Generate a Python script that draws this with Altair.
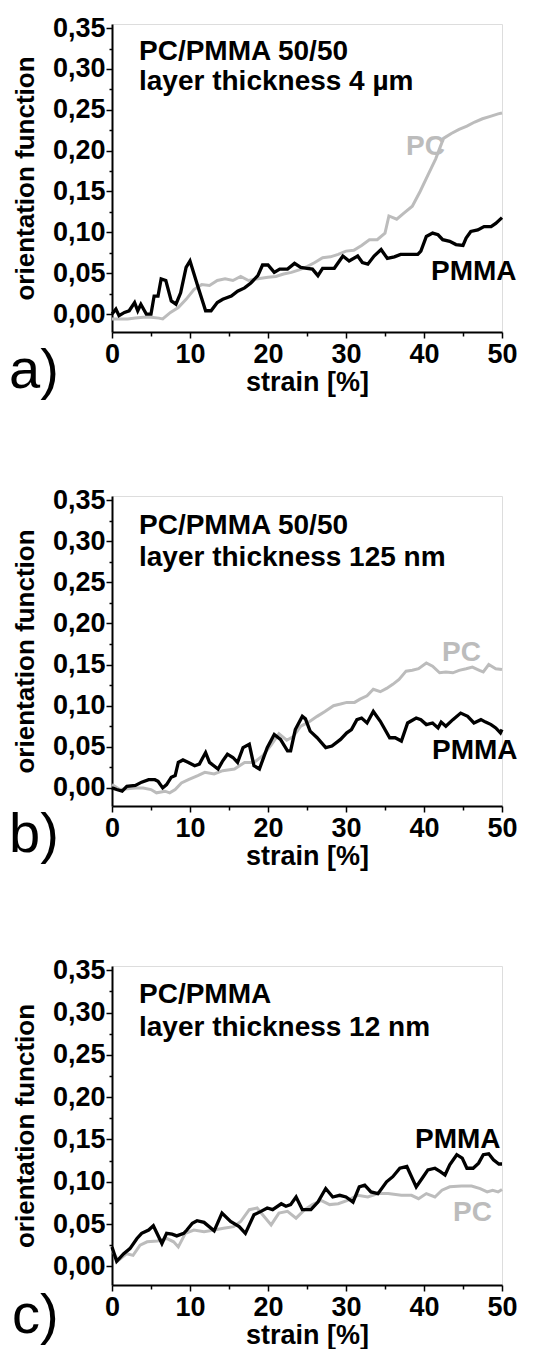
import altair as alt
import pandas as pd

# ---------------- data ----------------
# panel a) PC/PMMA 50/50, layer thickness 4 µm
a_pmma_strain = [0, 0.5, 0.9, 1.6, 2.2, 2.9, 3.3, 3.7, 4.4, 5.0, 5.4, 5.9, 6.3, 6.9, 7.6, 8.2, 8.8, 9.5, 10.0, 11.0,
                 12.0, 12.7, 13.5, 14.2, 15.3, 16.1, 17.0, 17.8, 18.7, 19.3, 20.0, 20.8, 21.5, 22.5, 23.4, 24.2, 25.0,
                 25.7, 26.4, 27.0, 28.5, 29.6, 30.4, 31.5, 32.1, 32.8, 33.6, 34.5, 35.3, 36.2, 37.0, 37.9, 39.2, 39.6,
                 40.3, 41.1, 41.8, 42.4, 43.3, 44.1, 45.0, 45.4, 46.0, 46.9, 47.7, 48.6, 49.2, 50.0]
a_pmma_value = [0.000, 0.006, -0.002, 0.002, 0.004, 0.014, 0.004, 0.012, 0.000, 0.000, 0.022, 0.022, 0.043, 0.041,
                0.016, 0.012, 0.026, 0.057, 0.065, 0.034, 0.004, 0.004, 0.014, 0.018, 0.022, 0.028, 0.032, 0.038,
                0.047, 0.060, 0.060, 0.051, 0.055, 0.055, 0.062, 0.057, 0.056, 0.055, 0.047, 0.056, 0.056, 0.071,
                0.065, 0.071, 0.063, 0.061, 0.071, 0.079, 0.068, 0.070, 0.073, 0.073, 0.073, 0.077, 0.095, 0.099,
                0.097, 0.091, 0.089, 0.085, 0.084, 0.093, 0.101, 0.103, 0.107, 0.107, 0.111, 0.118]
a_pc_strain = [0, 1, 2, 3, 4, 5, 6, 6.5, 7.5, 8.5, 9.5, 10.5, 11.5, 12.5, 13.5, 14.5, 15.5, 16.5, 17.5, 18.5,
               20, 21, 22, 23, 24, 25, 26, 27, 28, 29, 30, 31, 32, 33, 34, 35, 35.5, 36.5, 37.5, 38.5,
               39.5, 40.5, 41.5, 42.5, 43.5, 44.5, 45.5, 46.5, 47.5, 48.5, 49.5, 50]
a_pc_value = [-0.006, -0.006, -0.006, -0.005, -0.004, -0.004, -0.005, -0.006, 0.002, 0.008, 0.018, 0.030, 0.036,
              0.035, 0.041, 0.043, 0.041, 0.046, 0.041, 0.043, 0.045, 0.046, 0.049, 0.051, 0.054, 0.058, 0.063,
              0.069, 0.070, 0.073, 0.077, 0.078, 0.084, 0.091, 0.091, 0.099, 0.120, 0.116, 0.124, 0.132, 0.150,
              0.170, 0.190, 0.215, 0.221, 0.226, 0.230, 0.235, 0.239, 0.242, 0.245, 0.246]

# panel b) PC/PMMA 50/50, layer thickness 125 nm
b_pmma_strain = [0, 0.6, 1.3, 1.9, 3.0, 3.8, 4.7, 5.5, 5.9, 6.5, 7.0, 7.6, 8.1, 8.5, 9.1, 9.8, 10.6, 11.2, 12.0, 12.5,
                 13.6, 14.2, 14.8, 15.5, 16.1, 16.8, 17.6, 18.2, 18.9, 19.9, 20.8, 21.6, 22.5, 22.9, 23.5, 24.4, 24.8,
                 25.4, 26.3, 27.4, 28.2, 29.3, 30.1, 30.7, 31.4, 32.0, 32.7, 33.5, 34.4, 35.6, 36.3, 37.1, 37.9, 39.0,
                 39.6, 40.3, 41.1, 41.8, 42.2, 42.8, 43.7, 44.7, 45.6, 46.4, 47.3, 47.9, 48.6, 49.2, 49.8, 50.0]
b_pmma_value = [0.000, -0.002, -0.004, 0.002, 0.003, 0.007, 0.010, 0.010, 0.008, 0.000, 0.004, 0.013, 0.015, 0.031,
                0.034, 0.031, 0.027, 0.029, 0.043, 0.031, 0.023, 0.033, 0.041, 0.037, 0.031, 0.049, 0.053, 0.027,
                0.023, 0.049, 0.065, 0.059, 0.045, 0.045, 0.071, 0.087, 0.084, 0.069, 0.061, 0.049, 0.051, 0.059,
                0.067, 0.071, 0.083, 0.085, 0.079, 0.093, 0.081, 0.061, 0.061, 0.057, 0.079, 0.085, 0.083, 0.077,
                0.079, 0.073, 0.080, 0.075, 0.083, 0.091, 0.087, 0.079, 0.083, 0.080, 0.077, 0.073, 0.067, 0.071]
b_pc_strain = [0, 1, 2, 3, 4, 5, 5.7, 6.8, 7.4, 8.1, 8.9, 9.8, 11, 11.9, 13.1, 14.2, 15.7, 17, 18.2, 19.3,
               20.4, 21.4, 22.4, 23.2, 24.2, 25.2, 26.3, 27.3, 28.4, 29.3, 30.1, 31.1, 31.8, 32.7, 33.5, 34.4, 35.2,
               36, 36.8, 37.7, 38.5, 39.3, 40.3, 41.1, 42, 42.8, 43.7, 44.5, 45.4, 46.2, 47.1, 47.6, 48.3, 49.2, 50]
b_pc_value = [0.004, -0.002, -0.001, 0.000, 0.000, -0.002, -0.006, -0.004, -0.006, -0.002, 0.006, 0.010, 0.015,
              0.019, 0.017, 0.021, 0.023, 0.031, 0.031, 0.039, 0.052, 0.066, 0.058, 0.062, 0.075, 0.080, 0.087,
              0.093, 0.100, 0.102, 0.104, 0.104, 0.108, 0.112, 0.120, 0.117, 0.121, 0.126, 0.132, 0.142, 0.143,
              0.145, 0.152, 0.148, 0.140, 0.141, 0.140, 0.143, 0.145, 0.147, 0.143, 0.141, 0.150, 0.145, 0.144]

# panel c) PC/PMMA, layer thickness 12 nm
c_pmma_strain = [0, 0.6, 1.5, 2.3, 3.2, 3.8, 4.7, 5.3, 6.4, 7.0, 7.7, 8.3, 9.2, 9.6, 10.3, 10.9, 11.8, 13.1, 14.1,
                 15.2, 16.3, 17.1, 18.2, 19.1, 19.9, 20.6, 21.7, 22.3, 22.9, 23.6, 24.4, 25.5, 26.4, 27.4, 28.3,
                 29.2, 30.0, 30.9, 31.7, 32.4, 33.2, 34.1, 35.2, 36.0, 36.9, 37.8, 39.0, 39.9, 40.5, 41.4, 42.1,
                 42.7, 43.3, 44.2, 44.9, 45.5, 46.3, 47.0, 47.6, 48.3, 48.9, 49.6, 50.0]
c_pmma_value = [0.023, 0.006, 0.015, 0.021, 0.033, 0.039, 0.043, 0.048, 0.027, 0.039, 0.038, 0.036, 0.039, 0.043,
                0.051, 0.054, 0.052, 0.042, 0.063, 0.053, 0.047, 0.039, 0.061, 0.065, 0.069, 0.067, 0.074, 0.071,
                0.073, 0.082, 0.067, 0.067, 0.076, 0.092, 0.082, 0.084, 0.082, 0.076, 0.094, 0.096, 0.088, 0.086,
                0.100, 0.106, 0.116, 0.118, 0.094, 0.106, 0.114, 0.116, 0.112, 0.108, 0.120, 0.132, 0.128, 0.116,
                0.116, 0.122, 0.132, 0.133, 0.126, 0.121, 0.121]
c_pc_strain = [0, 0.8, 1.9, 2.7, 3.6, 4.5, 5.8, 7.0, 7.9, 8.5, 9.4, 10.5, 11.8, 13.1, 14.3, 15.6, 16.5, 17.6, 18.6,
               19.5, 20.4, 21.4, 22.5, 23.6, 24.7, 25.7, 26.8, 27.9, 29.0, 30.2, 31.5, 32.8, 34.1, 35.4, 37.1, 38.4,
               39.3, 40.3, 41.4, 42.3, 43.3, 44.8, 46.1, 47.2, 48.1, 48.8, 49.5, 50.0]
c_pc_value = [0.019, 0.007, 0.015, 0.013, 0.025, 0.029, 0.030, 0.033, 0.029, 0.023, 0.039, 0.043, 0.041, 0.043,
              0.045, 0.047, 0.053, 0.067, 0.069, 0.059, 0.049, 0.063, 0.065, 0.057, 0.067, 0.073, 0.078, 0.073,
              0.074, 0.078, 0.084, 0.082, 0.086, 0.086, 0.084, 0.084, 0.080, 0.086, 0.082, 0.090, 0.094, 0.095,
              0.095, 0.092, 0.088, 0.090, 0.088, 0.091]

strain_ticks = [0, 5, 10, 15, 20, 25, 30, 35, 40, 45, 50]
orientation_ticks = [0.0, 0.025, 0.05, 0.075, 0.1, 0.125, 0.15, 0.175, 0.2, 0.225, 0.25, 0.275, 0.3, 0.325, 0.35]

titles_a = ["PC/PMMA 50/50", "layer thickness 4 µm"]
titles_b = ["PC/PMMA 50/50", "layer thickness 125 nm"]
titles_c = ["PC/PMMA", "layer thickness 12 nm"]
series_names = ["PC", "PMMA"]
panel_letters = ["a)", "b)", "c)"]
x_title = "strain [%]"
y_title = "orientation function"

# ---------------- styling ----------------
FONT = "Liberation Sans"
GRAY = "#bcbcbc"
W = 390

xaxis = alt.Axis(
    values=strain_ticks, title=x_title, grid=False,
    labelExpr="datum.value % 10 === 0 ? datum.label : ''",
    domainColor="black", domainWidth=2, tickColor="black", tickWidth=1.5,
    tickSize={"condition": {"test": "datum.value % 10 === 0", "value": 6}, "value": 4},
    labelFont=FONT, labelFontSize=27, labelFontWeight="bold", labelColor="black",
    labelPadding=3, labelFlush=False, labelOverlap=False,
    titleFont=FONT, titleFontSize=27, titleFontWeight="bold", titleColor="black", titlePadding=2,
)
yaxis = alt.Axis(
    values=orientation_ticks, title=y_title, grid=False,
    labelExpr="abs(datum.value*20 - round(datum.value*20)) < 0.001 ? replace(format(datum.value, '.2f'), '.', ',') : ''",
    domainColor="black", domainWidth=2, tickColor="black", tickWidth=1.5,
    tickSize={"condition": {"test": "abs(datum.value*20 - round(datum.value*20)) < 0.001", "value": 6}, "value": 3},
    labelFont=FONT, labelFontSize=27, labelFontWeight="bold", labelColor="black",
    labelPadding=1, labelFlush=False, labelOverlap=False,
    titleFont=FONT, titleFontSize=26, titleFontWeight="bold", titleColor="black", titlePadding=14,
)


def line_layer(strain, value, color, width):
    df = pd.DataFrame({"strain": strain, "value": value})
    return alt.Chart(df).mark_line(color=color, strokeWidth=width).encode(
        x=alt.X("strain:Q", scale=alt.Scale(domain=[0, 50], nice=False, zero=False), axis=xaxis),
        y=alt.Y("value:Q", scale=alt.Scale(domain=[-0.022, 0.355], nice=False, zero=False), axis=yaxis),
    )


def text_layer(text, x, y, size=28, color="black", weight="bold"):
    return alt.Chart(pd.DataFrame({"t": [text]})).mark_text(
        align="left", baseline="middle", font=FONT, fontSize=size, fontWeight=weight, color=color
    ).encode(text="t:N", x=alt.value(x), y=alt.value(y))


def panel(pc_s, pc_v, pm_s, pm_v, titles, letter, height, pos):
    layers = [
        line_layer(pc_s, pc_v, GRAY, 3),
        line_layer(pm_s, pm_v, "black", 3.3),
        text_layer(titles[0], 27, pos["t1"]),
        text_layer(titles[1], 27, pos["t2"]),
        text_layer(series_names[0], pos["pc"][0], pos["pc"][1], color=GRAY),
        text_layer(series_names[1], pos["pm"][0], pos["pm"][1]),
        text_layer(letter, pos["let"][0], pos["let"][1], size=56, weight="normal"),
    ]
    return alt.layer(*layers).properties(width=W, height=height)


pa = panel(a_pc_strain, a_pc_value, a_pmma_strain, a_pmma_value, titles_a, panel_letters[0], 308,
           {"t1": 28, "t2": 58, "pc": (294, 123), "pm": (319, 248), "let": (-103, 347)})
pb = panel(b_pc_strain, b_pc_value, b_pmma_strain, b_pmma_value, titles_b, panel_letters[1], 310,
           {"t1": 30, "t2": 62, "pc": (330, 157), "pm": (320, 255), "let": (-103, 339)})
pc = panel(c_pc_strain, c_pc_value, c_pmma_strain, c_pmma_value, titles_c, panel_letters[2], 319,
           {"t1": 29, "t2": 62, "pc": (341, 247), "pm": (303, 174), "let": (-100, 350)})

chart = alt.vconcat(pa, pb, pc, spacing=85).configure_view(stroke=None).configure(
    padding={"left": 0, "top": 5, "right": 0, "bottom": 0}, background="white"
)

chart.save("out.html", embed_options={"renderer": "svg", "actions": False})
